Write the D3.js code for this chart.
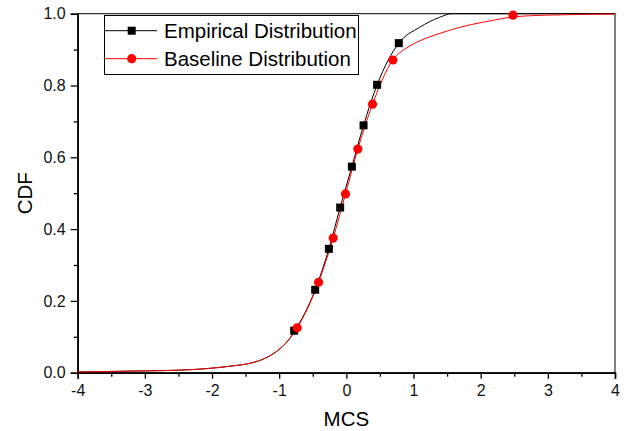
<!DOCTYPE html>
<html>
<head>
<meta charset="utf-8">
<script src="https://cdn.jsdelivr.net/npm/d3@7"></script>
<style>
  body { margin: 0; background: #fff; }
  svg { display: block; font-family: "Liberation Sans", Arial, sans-serif; }
</style>
</head>
<body>
<script>
// markers
var empX = [-0.777, -0.464, -0.260, -0.092, 0.082, 0.256, 0.458, 0.781];
var empY = [0.117, 0.231, 0.345, 0.460, 0.574, 0.689, 0.802, 0.918];
var baseX = [-0.732, -0.414, -0.196, -0.012, 0.171, 0.390, 0.692, 2.482];
var baseY = [0.125, 0.252, 0.375, 0.498, 0.623, 0.748, 0.871, 0.996];

// smooth curves
var empCurveX = [-4, -3, -2.5, -2.18, -1.69, -1.44, -1.19, -1.04, -0.94, -0.84, -0.777, -0.464, -0.260, -0.092, 0.082, 0.256, 0.458, 0.781, 1.09, 1.39, 1.57, 2, 3, 4];
var empCurveY = [0.002, 0.005, 0.007, 0.010, 0.019, 0.026, 0.042, 0.059, 0.075, 0.096, 0.114, 0.231, 0.345, 0.460, 0.574, 0.689, 0.802, 0.918, 0.962, 0.990, 1.0, 1.0, 1.0, 1.0];
var baseCurveX = [-4, -3, -2.5, -2.18, -1.69, -1.44, -1.19, -1.04, -0.94, -0.84, -0.732, -0.414, -0.196, -0.012, 0.171, 0.390, 0.692, 0.9, 1.09, 1.39, 1.69, 2.14, 2.48, 3, 4];
var baseCurveY = [0.002, 0.005, 0.007, 0.010, 0.019, 0.026, 0.042, 0.059, 0.075, 0.096, 0.125, 0.252, 0.375, 0.498, 0.623, 0.748, 0.871, 0.905, 0.924, 0.945, 0.962, 0.980, 0.991, 0.996, 0.999];

var xTicks = [-4, -3, -2, -1, 0, 1, 2, 3, 4];
var yTicks = [0, 0.2, 0.4, 0.6, 0.8, 1.0];

var width = 631, height = 431;
var margin = {top: 13.7, right: 16, bottom: 58.3, left: 77.7};

var svg = d3.select("body").append("svg")
    .attr("width", width)
    .attr("height", height);

var x = d3.scaleLinear().domain([-4, 4]).range([margin.left, width - margin.right]);
var y = d3.scaleLinear().domain([0, 1]).range([height - margin.bottom, margin.top]);

// frame
svg.append("rect")
    .attr("x", x(-4)).attr("y", y(1))
    .attr("width", x(4) - x(-4)).attr("height", y(0) - y(1))
    .attr("fill", "none").attr("stroke", "#000").attr("stroke-width", 1);

// minor ticks
var xMinor = xTicks.slice(0, -1).map(function (d) { return d + 0.5; });
var yMinor = yTicks.slice(0, -1).map(function (d) { return d + 0.1; });

// plain hyphen for negatives, like the original
var xFmt = function (d) { return String(d); };

svg.append("g")
    .attr("transform", "translate(0," + y(0) + ")")
    .call(d3.axisBottom(x).tickValues(xTicks).tickSize(6).tickPadding(6).tickFormat(xFmt));
svg.append("g")
    .attr("transform", "translate(0," + y(0) + ")")
    .call(d3.axisBottom(x).tickValues(xMinor).tickSize(4).tickFormat(""))
    .select(".domain").remove();

svg.append("g")
    .attr("transform", "translate(" + x(-4) + ",0)")
    .call(d3.axisLeft(y).tickValues(yTicks).tickSize(7).tickPadding(5).tickFormat(d3.format(".1f")));
svg.append("g")
    .attr("transform", "translate(" + x(-4) + ",0)")
    .call(d3.axisLeft(y).tickValues(yMinor).tickSize(4).tickFormat(""))
    .select(".domain").remove();

svg.selectAll(".tick line").attr("stroke", "#000").attr("stroke-width", 1.3);
svg.selectAll(".domain").attr("stroke", "#000").attr("stroke-width", 1.5);
svg.selectAll(".tick text").attr("fill", "#111").style("font-size", "16px")
    .style("font-family", "'Liberation Sans', Arial, sans-serif");

// axis titles
svg.append("text")
    .attr("x", x(0)).attr("y", 426)
    .attr("text-anchor", "middle")
    .style("font-size", "20.5px")
    .text("MCS");
svg.append("text")
    .attr("transform", "translate(32," + y(0.5) + ") rotate(-90)")
    .attr("text-anchor", "middle")
    .style("font-size", "20.5px")
    .text("CDF");

var line = d3.line()
    .x(function (d) { return x(d[0]); })
    .y(function (d) { return y(d[1]); })
    .curve(d3.curveMonotoneX);

var empCurve = empCurveX.map(function (d, i) { return [d, empCurveY[i]]; });
var baseCurve = baseCurveX.map(function (d, i) { return [d, baseCurveY[i]]; });

svg.append("path").datum(empCurve)
    .attr("d", line).attr("fill", "none").attr("stroke", "#000").attr("stroke-width", 1);
svg.append("path").datum(baseCurve)
    .attr("d", line).attr("fill", "none").attr("stroke", "#ff0000").attr("stroke-width", 1);

// markers
svg.append("g").selectAll("rect")
    .data(empX.map(function (d, i) { return [d, empY[i]]; }))
    .enter().append("rect")
    .attr("x", function (d) { return x(d[0]) - 4; })
    .attr("y", function (d) { return y(d[1]) - 4; })
    .attr("width", 8).attr("height", 8)
    .attr("fill", "#000");

svg.append("g").selectAll("circle")
    .data(baseX.map(function (d, i) { return [d, baseY[i]]; }))
    .enter().append("circle")
    .attr("cx", function (d) { return x(d[0]); })
    .attr("cy", function (d) { return y(d[1]); })
    .attr("r", 4.6)
    .attr("fill", "#ff0000");

// legend
var legend = svg.append("g");
legend.append("rect")
    .attr("x", 104.5).attr("y", 15.5)
    .attr("width", 254).attr("height", 59)
    .attr("fill", "#fff").attr("stroke", "#000").attr("stroke-width", 1);

var items = [
    {name: "Empirical Distribution", color: "#000", shape: "square", cy: 30.7},
    {name: "Baseline Distribution", color: "#ff0000", shape: "circle", cy: 58.7}
];
items.forEach(function (it) {
    legend.append("line")
        .attr("x1", 105).attr("x2", 157)
        .attr("y1", it.cy).attr("y2", it.cy)
        .attr("stroke", it.color).attr("stroke-width", 1);
    if (it.shape === "square") {
        legend.append("rect")
            .attr("x", 131.7 - 4).attr("y", it.cy - 4)
            .attr("width", 8).attr("height", 8).attr("fill", it.color);
    } else {
        legend.append("circle")
            .attr("cx", 131.7).attr("cy", it.cy).attr("r", 4.6).attr("fill", it.color);
    }
    legend.append("text")
        .attr("x", 164).attr("y", it.cy)
        .attr("dy", "0.35em")
        .style("font-size", "20.5px")
        .text(it.name);
});
</script>
</body>
</html>
